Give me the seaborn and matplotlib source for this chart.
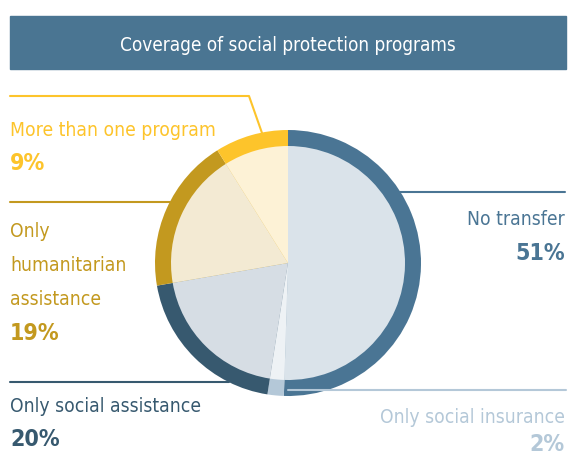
import matplotlib
matplotlib.use("Agg")
import matplotlib.pyplot as plt
from matplotlib import font_manager as fm
from matplotlib.patches import Rectangle
import numpy as np
import seaborn as sns

# Data
categories = ["No transfer", "Only social insurance", "Only social assistance",
              "Only humanitarian assistance", "More than one program"]
shares = [51, 2, 20, 19, 9]
pct_labels = ["51%", "2%", "20%", "19%", "9%"]
title = "Coverage of social protection programs"

# Colours: outer ring (strong) and inner disc (pale) per category
ring_colors = sns.color_palette(["#4a7594", "#b4c8d8", "#37596f", "#c3991f", "#fdc42b"])
fill_colors = sns.color_palette(["#dae3ea", "#eef2f5", "#d6dde4", "#f3ead3", "#fdf2d6"])

sns.set_theme(style="white")

# Prefer a narrow face for the condensed lettering
fonts = fm.fontManager.ttflist
family, stretch = "DejaVu Sans", "normal"
if any(f.name == "Liberation Sans Narrow" for f in fonts):
    family = "Liberation Sans Narrow"
elif any(f.name == "DejaVu Sans" and f.stretch == "condensed" for f in fonts):
    stretch = "condensed"
plt.rcParams["font.family"] = [family, "DejaVu Sans"]
plt.rcParams["font.stretch"] = stretch

W, H = 569, 457
fig = plt.figure(figsize=(W / 100, H / 100), dpi=100)
ax = fig.add_axes([0, 0, 1, 1])

def Y(y):
    """Convert a top-down pixel row into axis units."""
    return H - y

cx, cy = 288, 263
r_out, r_in = 133, 117

ax.pie(shares, colors=ring_colors, radius=r_out, center=(cx, Y(cy)),
       startangle=90, counterclock=False, wedgeprops=dict(linewidth=0))
ax.pie(shares, colors=fill_colors, radius=r_in, center=(cx, Y(cy)),
       startangle=90, counterclock=False, wedgeprops=dict(linewidth=0))

ax.set_xlim(0, W)
ax.set_ylim(0, H)
ax.set_aspect("equal")
ax.axis("off")

# Size the lettering so reference strings span their intended widths
renderer = fig.canvas.get_renderer()
def fit_size(s, width_px, weight="normal"):
    t = ax.text(0, 0, s, fontsize=10, fontweight=weight)
    w = t.get_window_extent(renderer).width
    t.remove()
    return 10 * width_px / w

fs_title = fit_size(title, 336)
fs_label = fit_size("Only social assistance", 192)
fs_pct = fit_size("20%", 50, "bold")

# Title banner
ax.add_patch(Rectangle((10, Y(69)), 556, 53, color="#4a7592", zorder=5))
ax.text(288, Y(51), title, color="white", fontsize=fs_title, ha="center",
        va="baseline", zorder=6)

def edge_x(y, side):
    """x position where a horizontal row meets the outer ring."""
    dx = np.sqrt(max(r_out ** 2 - (y - cy) ** 2, 0))
    return cx + side * dx

def label(x, y, s, color, ha, pct=False):
    ax.text(x, Y(y), s, color=color, fontsize=fs_pct if pct else fs_label,
            fontweight="bold" if pct else "normal", ha=ha, va="baseline")

lw = 1.5
# No transfer
ax.plot([edge_x(192, 1), 565], [Y(192), Y(192)], color=ring_colors[0], lw=lw, zorder=4)
label(565, 225, categories[0], ring_colors[0], "right")
label(565, 260, pct_labels[0], ring_colors[0], "right", pct=True)

# Only social insurance
ax.plot([cx, 566], [Y(390), Y(390)], color=ring_colors[1], lw=lw, zorder=4)
label(565, 423, categories[1], ring_colors[1], "right")
label(565, 451, pct_labels[1], ring_colors[1], "right", pct=True)

# Only social assistance
ax.plot([10, edge_x(382, -1)], [Y(382), Y(382)], color=ring_colors[2], lw=lw, zorder=4)
label(10, 412, categories[2], ring_colors[2], "left")
label(10, 446, pct_labels[2], ring_colors[2], "left", pct=True)

# Only humanitarian assistance
ax.plot([10, edge_x(202, -1)], [Y(202), Y(202)], color=ring_colors[3], lw=lw, zorder=4)
for txt, yb in zip(["Only", "humanitarian", "assistance"], [237, 271, 305]):
    label(10, yb, txt, ring_colors[3], "left")
label(10, 340, pct_labels[3], ring_colors[3], "left", pct=True)

# More than one program
ax.plot([10, 249, 262], [Y(96), Y(96), Y(133)], color=ring_colors[4], lw=lw, zorder=4)
label(10, 136, categories[4], ring_colors[4], "left")
label(10, 170, pct_labels[4], ring_colors[4], "left", pct=True)

fig.savefig("out.png", dpi=100, facecolor="white")
